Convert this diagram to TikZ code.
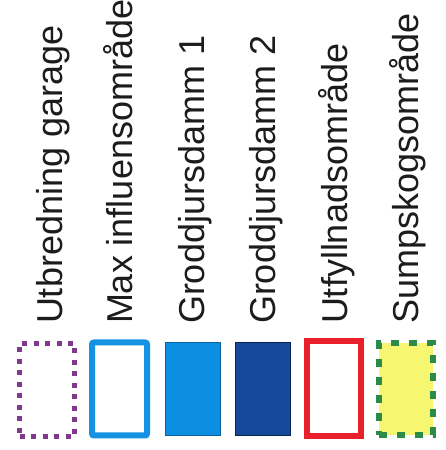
\documentclass[tikz,border=0pt]{standalone}
\usepackage{fontspec}
\setmainfont{Liberation Sans}
\definecolor{txt}{RGB}{28,28,28}
\definecolor{purp}{RGB}{128,56,140}
\definecolor{skyb}{RGB}{22,146,226}
\definecolor{fillb}{RGB}{12,142,226}
\definecolor{darkb}{RGB}{22,72,156}
\definecolor{redc}{RGB}{232,32,42}
\definecolor{yel}{RGB}{246,246,112}
\definecolor{grn}{RGB}{42,140,72}
\begin{document}
\begin{tikzpicture}[x=1pt,y=1pt,
  lbl/.style={rotate=90, anchor=base west, inner sep=0pt, outer sep=0pt,
              font=\fontsize{36}{40}\selectfont, text=txt},
  swatch/.style={rectangle, inner sep=0pt, outer sep=0pt,
                 minimum width=55pt, minimum height=93pt}]
\useasboundingbox[fill=white] (0,0) rectangle (446,450);
% labels
\node[lbl] (t1) at (62,126)  {Utbredning garage};
\node[lbl] (t2) at (132,126) {Max influensområde};
\node[lbl] (t3) at (204,126) {Groddjursdamm 1};
\node[lbl] (t4) at (275,126) {Groddjursdamm 2};
\node[lbl] (t5) at (347,126) {Utfyllnadsområde};
\node[lbl] (t6) at (418,126) {Sumpskogsområde};
% swatches
\node[swatch, draw=purp, line width=5pt, dash pattern=on 5pt off 6.5pt] (s1) at (47,60) {};
\node[swatch, draw=skyb, line width=6pt, rounded corners=2pt] (s2) at (119.5,61) {};
\node[swatch, fill=fillb, draw=fillb!70!black, line width=0.6pt] (s3) at (192.5,61.5) {};
\node[swatch, fill=darkb, draw=darkb!50!black, line width=0.8pt] (s4) at (262.5,61) {};
\node[swatch, draw=redc, line width=6pt, minimum width=54pt, minimum height=95pt] (s5) at (334,61.5) {};
\node[swatch, fill=yel, draw=grn, line width=6pt, dash pattern=on 8pt off 10pt, minimum width=54pt, minimum height=92pt] (s6) at (406,61) {};
\end{tikzpicture}
\end{document}
